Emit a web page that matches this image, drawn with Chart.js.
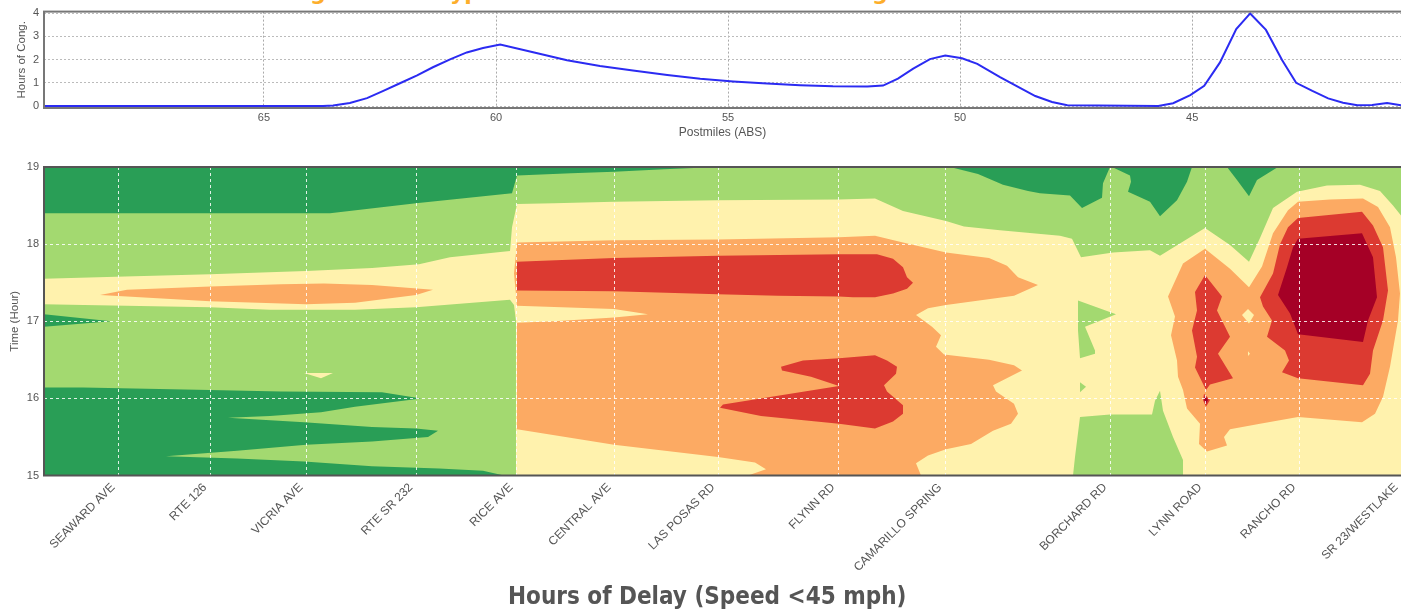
<!DOCTYPE html>
<html>
<head>
<meta charset="utf-8">
<title>Hours of Delay</title>
<script src="https://cdn.jsdelivr.net/npm/chart.js@4"></script>
<style>
  html, body { margin: 0; padding: 0; background: #fff; overflow: hidden; }
  #wrap { position: relative; width: 1401px; height: 612px; overflow: hidden; }
  canvas { position: absolute; left: 0; }
  #cutTitle span { position: absolute; top: -20px; color: #fdae2b; font: bold 22px "DejaVu Sans", sans-serif; }
  #delayTitle { position: absolute; left: 508px; top: 581px; white-space: nowrap; color: #555; font: bold 24px "DejaVu Sans Condensed", "DejaVu Sans", sans-serif; font-stretch: condensed; line-height: 30px; }
</style>
</head>
<body>
<div id="wrap">
  <div id="cutTitle"><span style="left:310px">g</span><span style="left:450px">yp</span><span style="left:872px">g</span></div>
  <canvas id="graficoHoras" width="1401" height="140" style="top:0"></canvas>
  <canvas id="graficoDemora" width="1401" height="472" style="top:140px"></canvas>
  <div id="delayTitle">Hours of Delay (Speed &lt;45 mph)</div>
</div>
<script>
// top line: postmile, hours of congestion
const postmiles = [69.74,63.73,63.51,63.15,62.78,62.44,62.07,61.70,61.36,60.99,60.63,60.28,59.91,59.20,58.47,57.76,57.05,56.31,55.60,54.89,54.16,53.45,52.74,52.00,51.66,51.34,51.01,50.65,50.32,49.96,49.63,49.14,48.77,48.38,48.02,47.69,45.73,45.41,45.04,44.74,44.40,44.05,43.75,43.41,43.06,42.76,42.41,42.07,41.75,41.44,41.12,40.80,40.50];
const congHours = [0,0,0.02,0.13,0.34,0.64,0.98,1.32,1.67,2.01,2.31,2.50,2.65,2.32,1.97,1.72,1.53,1.34,1.17,1.06,0.97,0.90,0.85,0.84,0.88,1.18,1.61,2.02,2.18,2.06,1.82,1.25,0.85,0.43,0.17,0.03,0,0.12,0.47,0.87,1.88,3.32,3.99,3.28,1.97,1.00,0.65,0.33,0.14,0.03,0.04,0.13,0.03];
const postmileTicks = [65,60,55,50,45];
const congTicks = [0,1,2,3,4];

// bottom chart: stations along the corridor
const stations = ['SEAWARD AVE','RTE 126','VICRIA AVE','RTE SR 232','RICE AVE','CENTRAL AVE','LAS POSAS RD','FLYNN RD','CAMARILLO SPRING','BORCHARD RD','LYNN ROAD','RANCHO RD','SR 23/WESTLAKE'];
const stationPos = [74,166,262,372,472,570,674,794,901,1066,1161,1255,1357];
const hourTicks = [15,16,17,18,19];

// contour outlines [corridor position, hour]
const baseBand = [[0,15],[1357,15],[1357,19],[0,19]];
const greenTop = [[0,19],[674,19],[620,18.97],[570,18.94],[527,18.92],[473,18.89],[468,18.66],[372,18.53],[286,18.4],[0,18.4]];
const greenWedge = [[0,17.09],[67,17],[0,16.93]];
const greenBottom = [[0,16.14],[39,16.14],[166,16.11],[237,16.09],[338,16.08],[377,16],[311,15.89],[277,15.82],[226,15.77],[184,15.75],[260,15.69],[328,15.63],[372,15.61],[394,15.58],[384,15.5],[328,15.44],[262,15.4],[193,15.32],[122,15.25],[193,15.22],[260,15.18],[328,15.12],[395,15.09],[439,15.06],[460,15],[0,15]];
const greenRightA = [[906,19],[934,18.91],[959,18.77],[984,18.69],[996,18.66],[1026,18.63],[1038,18.47],[1058,18.6],[1059,18.79],[1066,19]];
const greenRightB = [[1068,19],[1086,18.89],[1087,18.81],[1084,18.68],[1106,18.55],[1116,18.36],[1133,18.57],[1143,18.81],[1148,19]];
const greenRightC = [[1183,19],[1193,18.83],[1205,18.62],[1213,18.83],[1234,19]];
const yellowMain = [[0,17.55],[81,17.58],[166,17.61],[262,17.65],[328,17.69],[375,17.74],[406,17.83],[466,17.91],[468,18.22],[473,18.52],[510,18.53],[570,18.55],[674,18.57],[795,18.58],[831,18.59],[859,18.43],[902,18.3],[920,18.23],[956,18.18],[1016,18.11],[1028,18.07],[1037,17.83],[1069,17.89],[1106,17.92],[1116,17.85],[1161,18.21],[1186,17.99],[1205,17.77],[1216,18.08],[1229,18.47],[1253,18.68],[1283,18.76],[1316,18.77],[1336,18.69],[1349,18.5],[1357,18.37],[1357,15],[472,15],[472,15.63],[472,17],[470,17.21],[466,17.28],[372,17.18],[311,17.15],[226,17.15],[166,17.18],[40,17.21],[0,17.22]];
const yellowSpot = [[260,16.33],[289,16.33],[277,16.26]];
const greenBlobLow = [[1029,15],[1031,15.24],[1036,15.76],[1066,15.79],[1108,15.79],[1111,15.97],[1116,16.1],[1119,15.84],[1129,15.5],[1139,15.2],[1139,15]];
const greenBlobMid = [[1034,17.27],[1072,17.09],[1041,16.93],[1051,16.62],[1051,16.58],[1036,16.52],[1034,16.88]];
const greenBlobTiny = [[1036,16.21],[1042,16.15],[1036,16.08]];
const orangeBand = [[56,17.34],[83,17.41],[166,17.45],[237,17.48],[280,17.49],[328,17.47],[389,17.41],[372,17.34],[311,17.24],[262,17.22],[166,17.26],[83,17.32]];
const orangeMain = [[473,18.02],[570,18.05],[674,18.06],[795,18.09],[831,18.11],[859,18.02],[902,17.89],[945,17.82],[963,17.72],[974,17.57],[994,17.47],[970,17.33],[902,17.21],[884,17.17],[872,17.08],[888,16.93],[897,16.82],[892,16.67],[900,16.57],[945,16.5],[970,16.43],[978,16.36],[949,16.17],[952,16.09],[970,15.93],[974,15.8],[967,15.67],[949,15.58],[927,15.41],[902,15.34],[884,15.26],[872,15.16],[877,15],[704,15],[722,15.08],[711,15.17],[674,15.24],[570,15.4],[473,15.6],[473,16.98],[510,17],[570,17.05],[604,17.09],[570,17.16],[473,17.2],[470,17.62]];
const orangeRight = [[1161,17.94],[1186,17.68],[1205,17.44],[1218,17.71],[1229,18.14],[1244,18.44],[1254,18.55],[1286,18.58],[1319,18.59],[1334,18.48],[1346,18.22],[1352,17.83],[1356,17.36],[1354,17.01],[1346,16.41],[1339,16.02],[1331,15.8],[1318,15.69],[1254,15.76],[1216,15.67],[1186,15.6],[1180,15.5],[1183,15.39],[1163,15.31],[1155,15.41],[1156,15.67],[1143,15.87],[1139,16.11],[1134,16.28],[1133,16.49],[1127,16.82],[1131,17.06],[1124,17.32],[1139,17.75]];
const yellowHole = [[1204,17.16],[1210,17.08],[1205,16.97],[1198,17.08]];
const yellowSpeck = [[1204,16.61],[1206,16.58],[1204,16.55]];
const redLong = [[473,17.77],[570,17.82],[674,17.85],[795,17.87],[833,17.87],[849,17.81],[859,17.7],[863,17.57],[869,17.5],[863,17.42],[849,17.36],[831,17.31],[809,17.31],[795,17.32],[734,17.33],[674,17.35],[570,17.39],[473,17.4]];
const redMid = [[737,16.41],[759,16.49],[795,16.52],[831,16.56],[843,16.49],[853,16.41],[852,16.32],[840,16.17],[843,16.09],[859,15.91],[859,15.8],[849,15.7],[831,15.61],[795,15.67],[717,15.77],[676,15.88],[679,15.92],[795,16.16],[767,16.28],[738,16.36]];
const redCenter = [[1161,17.6],[1178,17.32],[1173,17.14],[1186,16.8],[1174,16.58],[1189,16.26],[1166,16.18],[1162,16.11],[1151,16.4],[1153,16.54],[1148,16.88],[1153,17.14],[1151,17.38]];
const redSpeck = [[1160,16.06],[1166,15.98],[1162,15.89],[1159,15.98]];
const redRight = [[1216,17.31],[1229,17.62],[1236,18],[1244,18.22],[1254,18.34],[1318,18.42],[1329,18.24],[1339,17.96],[1344,17.4],[1339,17.01],[1329,16.62],[1326,16.32],[1319,16.17],[1254,16.26],[1238,16.34],[1245,16.49],[1241,16.62],[1223,16.8],[1228,17.01],[1219,17.19]];
const darkRedSpeck = [[1161,16.03],[1164,15.98],[1162,15.93],[1160,15.98]];
const darkRedCore = [[1254,18.07],[1318,18.14],[1329,17.83],[1333,17.31],[1324,17.01],[1319,16.73],[1254,16.83],[1246,17.1],[1234,17.34],[1243,17.7],[1249,17.96]];

const verdeOsc = '#299e56', verdeCla = '#a3d970', amarillo = '#fff2ad', naranja = '#fcaa63', rojo = '#dc3a31', rojoOsc = '#a50026';
// painted in this order, first at the back
const capas = [
  [baseBand, verdeCla], [greenTop, verdeOsc], [greenWedge, verdeOsc], [greenBottom, verdeOsc],
  [greenRightA, verdeOsc], [greenRightB, verdeOsc], [greenRightC, verdeOsc],
  [yellowMain, amarillo], [yellowSpot, amarillo],
  [greenBlobLow, verdeCla], [greenBlobMid, verdeCla], [greenBlobTiny, verdeCla],
  [orangeBand, naranja], [orangeMain, naranja], [orangeRight, naranja],
  [yellowHole, amarillo], [yellowSpeck, amarillo],
  [redLong, rojo], [redMid, rojo], [redCenter, rojo], [redSpeck, rojo], [redRight, rojo],
  [darkRedSpeck, rojoOsc], [darkRedCore, rojoOsc]
];

const fuente = 'Liberation Sans';
const gris = '#555';

const marco = color => ({
  id: 'marco',
  afterDraw(chart) {
    const a = chart.chartArea, c = chart.ctx;
    c.save();
    c.strokeStyle = color;
    c.lineWidth = 2;
    c.strokeRect(a.left, a.top, a.right - a.left + 4, a.bottom - a.top);
    c.restore();
  }
});

new Chart(document.getElementById('graficoHoras'), {
  type: 'line',
  plugins: [marco('#777')],
  data: {
    datasets: [{
      data: postmiles.map((p, i) => ({ x: p, y: congHours[i] })),
      borderColor: '#2b2bf2',
      borderWidth: 2,
      pointRadius: 0,
      tension: 0,
      clip: false
    }]
  },
  options: {
    responsive: false,
    animation: false,
    events: [],
    layout: { padding: { top: 11, left: 0, right: 0, bottom: 0 } },
    plugins: { legend: { display: false }, tooltip: { enabled: false } },
    scales: {
      x: {
        type: 'linear', reverse: true, min: 40.5, max: 69.74,
        afterBuildTicks: s => { s.ticks = postmileTicks.map(v => ({ value: v })); },
        afterFit: s => { s.height = 32; },
        grid: { color: '#aaa', lineWidth: 1, drawTicks: false },
        border: { display: false, dash: [2, 2] },
        ticks: { color: gris, font: { family: fuente, size: 11 }, padding: 3, maxRotation: 0 },
        title: { display: true, text: 'Postmiles (ABS)', color: gris, font: { family: fuente, size: 12 }, padding: 0 }
      },
      y: {
        min: -0.086, max: 4.07,
        afterBuildTicks: s => { s.ticks = congTicks.map(v => ({ value: v })); },
        afterFit: s => { s.width = 44; },
        grid: { color: '#bbb', lineWidth: 1, drawTicks: false },
        border: { display: false, dash: [2, 2] },
        ticks: { color: gris, font: { family: fuente, size: 11 }, padding: 5 },
        title: { display: true, text: 'Hours of Cong.', color: gris, font: { family: fuente, size: 11.5 }, padding: { top: 15, bottom: 0 } }
      }
    }
  }
});

new Chart(document.getElementById('graficoDemora'), {
  type: 'scatter',
  plugins: [marco('#555')],
  data: {
    // chart.js paints the last dataset first
    datasets: capas.slice().reverse().map(([forma, color]) => ({
      data: forma.map(([x, y]) => ({ x, y })),
      showLine: true,
      fill: 'shape',
      backgroundColor: color,
      borderWidth: 0,
      pointRadius: 0,
      tension: 0
    }))
  },
  options: {
    responsive: false,
    animation: false,
    events: [],
    layout: { padding: { top: 27, left: 0, right: 0, bottom: 0 } },
    plugins: { legend: { display: false }, tooltip: { enabled: false } },
    scales: {
      x: {
        type: 'linear', min: 0, max: 1357,
        afterBuildTicks: s => { s.ticks = stationPos.map(v => ({ value: v })); },
        afterFit: s => { s.height = 136.5; s.paddingRight = 0; s.paddingLeft = 0; },
        grid: { color: 'rgba(255,255,255,0.85)', lineWidth: 1, drawTicks: false, z: 1 },
        border: { display: false, dash: [3, 3] },
        ticks: {
          color: gris, font: { family: fuente, size: 12 }, padding: 5, labelOffset: -5,
          autoSkip: false, minRotation: 45, maxRotation: 45,
          callback: (v, i) => stations[i]
        }
      },
      y: {
        min: 15, max: 19,
        afterBuildTicks: s => { s.ticks = hourTicks.map(v => ({ value: v })); },
        afterFit: s => { s.width = 44; s.paddingTop = 0; s.paddingBottom = 0; },
        grid: { color: 'rgba(255,255,255,0.85)', lineWidth: 1, drawTicks: false, z: 1 },
        border: { display: false, dash: [3, 3] },
        ticks: { color: gris, font: { family: fuente, size: 11 }, padding: 5 },
        title: { display: true, text: 'Time (Hour)', color: gris, font: { family: fuente, size: 11.5 }, padding: { top: 8, bottom: 0 } }
      }
    }
  }
});
</script>
</body>
</html>
